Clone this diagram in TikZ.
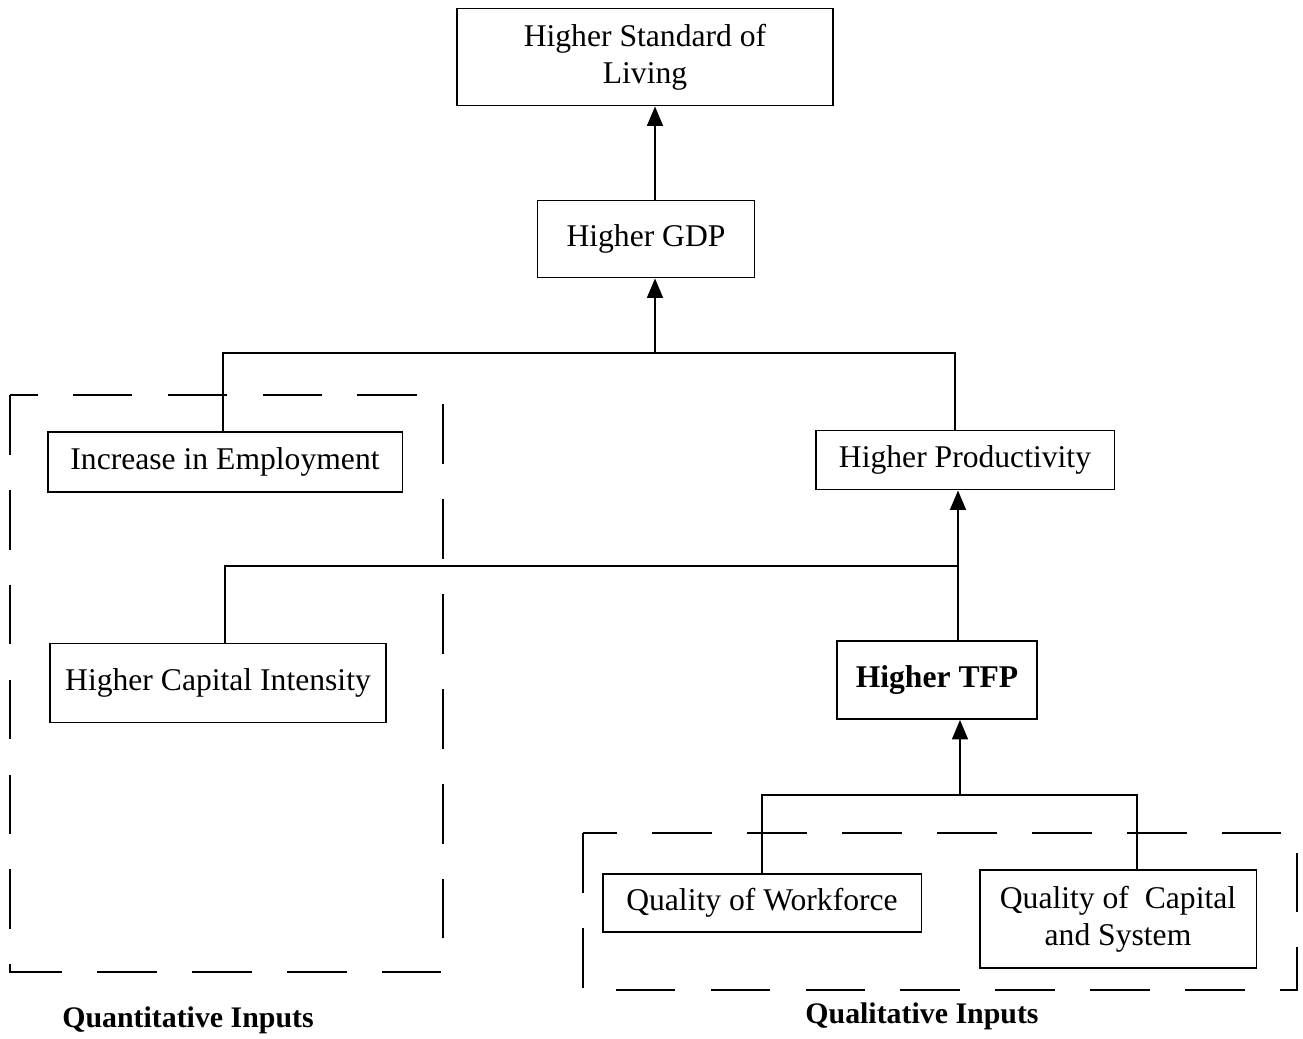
\documentclass[tikz,border=0pt]{standalone}
\usepackage{fontspec}
\setmainfont{Liberation Serif}
\usepackage{tikz}
\usetikzlibrary{arrows.meta, calc}

\tikzset{
    box/.style={draw, line width=1.1pt, align=center, inner sep=0pt,
        font=\fontsize{18}{21}\selectfont},
    link/.style={line width=1.1pt},
    arr/.style={line width=1.1pt, -{Triangle[width=9pt,length=11pt]}},
    group/.style={line width=1.1pt, dash pattern=on 34pt off 20pt},
    caption/.style={font=\fontsize{17}{20}\selectfont\bfseries}
}

\begin{document}
\begin{tikzpicture}[x=0.02cm, y=-0.02cm]
    \useasboundingbox (0,0) rectangle (1303,1039);

    % Place the boxes
    \node (top) [box, minimum width=7.52cm, minimum height=1.94cm] at (645,57) {Higher Standard of\\Living};
    \node (gdp) [box, minimum width=4.34cm, minimum height=1.54cm] at (646,239) {Higher GDP};
    \node (emp) [box, minimum width=7.1cm, minimum height=1.2cm] at (225,462) {Increase in Employment};
    \node (prod) [box, minimum width=5.98cm, minimum height=1.18cm] at (965,460) {Higher Productivity};
    \node (capint) [box, minimum width=6.72cm, minimum height=1.58cm] at (218,683) {Higher Capital Intensity};
    \node (tfp) [box, minimum width=4.0cm, minimum height=1.56cm, font=\fontsize{18}{21}\selectfont\bfseries] at (937,680) {Higher TFP};
    \node (work) [box, minimum width=6.38cm, minimum height=1.16cm] at (762,903) {Quality of Workforce};
    \node (capsys) [box, minimum width=5.54cm, minimum height=1.96cm] at (1118,919) {Quality of\ \ Capital\\and System};

    % Place the junction points
    \coordinate (jA) at (655,353);
    \coordinate (jB) at (958,566);
    \coordinate (jC) at (960,795);

    % Draw the arrows
    \draw[arr] (gdp.north -| jA) -- (jA |- top.south);
    \draw[arr] (jA) -- (jA |- gdp.south);
    \draw[link] (emp.north -| 223,0) |- (jA) -| (prod.north -| 955,0);
    \draw[arr] (jB) -- (jB |- prod.south);
    \draw[link] (capint.north -| 225,0) |- (jB) -- (jB |- tfp.north);
    \draw[arr] (jC) -- (jC |- tfp.south);
    \draw[link] (work.north) |- (jC) -| (capsys.north -| 1137,0);

    % Draw the input groups
    \draw[group] (10,395) rectangle (443,972);
    \draw[group] (583,833) rectangle (1297,990);
    \node (quant) [caption] at (188,1020) {Quantitative Inputs};
    \node (qual) [caption] at (922,1016) {Qualitative Inputs};
\end{tikzpicture}
\end{document}
